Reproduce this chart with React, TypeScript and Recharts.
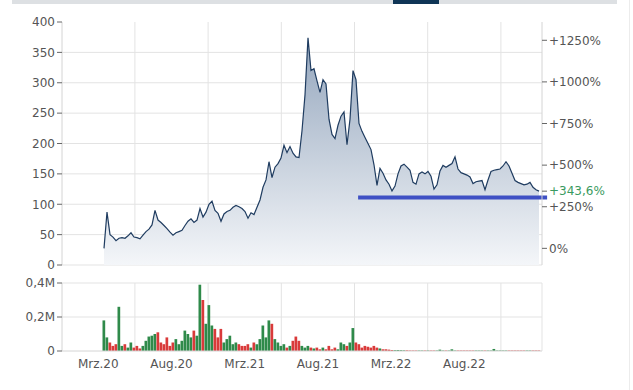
import {
  AreaChart,
  Area,
  BarChart,
  Bar,
  Cell,
  XAxis,
  YAxis,
  CartesianGrid,
  ReferenceLine,
} from "recharts"

// x axis: trading-day index, labels sit between the grid lines
const xDomain = [-14, 146]
const xLabels = ["Mrz.20", "Aug.20", "Mrz.21", "Aug.21", "Mrz.22", "Aug.22"]
const xLabelPos = [-1.9, 22.5, 46.9, 71.3, 95.7, 120.1]
const xGrid = [10.3, 34.7, 59.1, 83.5, 107.9, 132.3]

const priceTicks = [0, 50, 100, 150, 200, 250, 300, 350, 400]
const priceGrid = [0, 50, 100, 150, 200, 250, 300, 350]
const pctTicks = [0, 250, 500, 750, 1000, 1250]
const volTicks = [0, 0.2, 0.4]

// closing price
const price = [
  27.4, 87, 50, 46, 40, 44, 45, 44, 48, 53,
  46, 45, 43, 49, 55, 59, 66, 90, 74, 70,
  65, 60, 54, 49, 53, 55, 57, 65, 72, 76,
  70, 74, 93, 79, 87, 100, 105, 90, 85, 72,
  84, 88, 90, 95, 98, 96, 93, 88, 77, 86,
  83, 95, 107, 128, 140, 170, 144, 161, 167, 176,
  197, 185, 195, 184, 178, 177, 221, 280, 374, 320,
  323, 303, 284, 305, 298, 240, 215, 208, 230, 245,
  252, 198, 240, 320, 305, 233, 220, 210, 200, 190,
  165, 131, 159, 151, 140, 133, 122, 130, 150, 163,
  166, 161, 156, 136, 133, 150, 153, 150, 154, 146,
  125, 132, 155, 164, 161, 164, 167, 178, 158, 152,
  150, 148, 145, 134, 137, 138, 139, 124, 140, 154,
  156, 157, 158, 163, 170, 163, 151, 139, 136, 134,
  132, 133, 136, 128, 124, 121.55,
]

// volume in millions
const volume = [
  0.18, 0.08, 0.05, 0.03, 0.04, 0.26, 0.03, 0.04, 0.02, 0.05,
  0.02, 0.03, 0.015, 0.03, 0.06, 0.085, 0.09, 0.1, 0.11, 0.05,
  0.04, 0.08, 0.03, 0.05, 0.07, 0.04, 0.06, 0.12, 0.1, 0.08,
  0.12, 0.09, 0.39, 0.3, 0.16, 0.27, 0.15, 0.13, 0.08, 0.13,
  0.05, 0.07, 0.09, 0.04, 0.05, 0.04, 0.03, 0.03, 0.04, 0.02,
  0.05, 0.04, 0.07, 0.15, 0.08, 0.18, 0.16, 0.07, 0.05, 0.03,
  0.04, 0.02, 0.03, 0.06, 0.085, 0.06, 0.03, 0.02, 0.03, 0.02,
  0.015, 0.02, 0.01, 0.02, 0.01, 0.03, 0.01, 0.02, 0.01, 0.05,
  0.04, 0.03, 0.05, 0.135, 0.05, 0.04, 0.02, 0.03, 0.025, 0.02,
  0.03, 0.02, 0.015, 0.01, 0.01, 0.008, 0.006, 0.005, 0.006, 0.005,
  0.004, 0.004, 0.003, 0.003, 0.003, 0.003, 0.003, 0.003, 0.003, 0.003,
  0.003, 0.003, 0.008, 0.003, 0.003, 0.003, 0.01, 0.003, 0.003, 0.003,
  0.003, 0.003, 0.003, 0.003, 0.003, 0.003, 0.003, 0.003, 0.003, 0.003,
  0.012, 0.003, 0.003, 0.003, 0.003, 0.003, 0.003, 0.003, 0.003, 0.003,
  0.003, 0.003, 0.003, 0.003, 0.003, 0.003,
]

// horizontal marker line
const supportLevel = 111
const supportFrom = 84.7
const supportTo = 147.7

const basePrice = price[0]
const lastPrice = price[price.length - 1]

const rows = price.map((p, i) => ({ i, price: p, vol: volume[i] }))

const tickStyle = { fill: "#555", fontSize: 12 }
const GREEN = "#2f8a4a"
const RED = "#d93a3a"

function PctTick({ x, y, payload }: { x?: number; y?: number; payload?: { value: number } }) {
  const v = payload?.value ?? 0
  const isLast = Math.abs(v - lastPrice) < 1e-6
  const pct = (v / basePrice - 1) * 100
  let text: string
  if (isLast) text = `+${pct.toFixed(1).replace(".", ",")}%`
  else if (Math.round(pct) === 0) text = "0%"
  else text = `+${Math.round(pct)}%`
  return (
    <text x={x} y={y} dy="0.355em" textAnchor="start" fontSize={12} fill={isLast ? "#3a9a60" : "#555"}>
      {text}
    </text>
  )
}

export default function App() {
  const rightTicks = [...pctTicks.map((p) => basePrice * (1 + p / 100)), lastPrice]

  return (
    <div
      style={{
        position: "absolute",
        left: 0,
        top: 0,
        width: 633,
        height: 390,
        background: "#fff",
        overflow: "hidden",
        fontFamily: "'DejaVu Sans', Verdana, sans-serif",
      }}
    >
      <div style={{ position: "absolute", left: 12, top: 0, width: 605, height: 4, background: "#dde0e3" }} />
      <div style={{ position: "absolute", left: 393, top: 0, width: 46, height: 4, background: "#0f3556" }} />
      <div style={{ position: "absolute", left: 629, top: 0, width: 1, height: 390, background: "#ececec" }} />

      <div style={{ position: "absolute", left: 0, top: 0 }}>
        <AreaChart width={633} height={280} data={rows} margin={{ top: 22, right: 0, left: 0, bottom: 15 }}>
          <defs>
            <linearGradient id="priceFill" x1="0" y1="0" x2="0" y2="1">
              <stop offset="0%" stopColor="#94a6bd" />
              <stop offset="100%" stopColor="#f4f6f9" />
            </linearGradient>
          </defs>
          <CartesianGrid
            yAxisId="left"
            stroke="#e3e3e3"
            horizontalValues={priceGrid}
            verticalValues={xGrid}
          />
          <XAxis type="number" dataKey="i" domain={xDomain} allowDataOverflow hide />
          <YAxis
            yAxisId="left"
            width={62}
            domain={[0, 400]}
            ticks={priceTicks}
            interval={0}
            tick={tickStyle}
            tickSize={5}
            tickLine={{ stroke: "#666" }}
            axisLine={{ stroke: "#d4d4d4" }}
          />
          <YAxis
            yAxisId="right"
            orientation="right"
            width={91}
            domain={[0, 400]}
            allowDataOverflow
            ticks={rightTicks}
            interval={0}
            tick={<PctTick />}
            tickSize={5}
            tickLine={{ stroke: "#666" }}
            axisLine={{ stroke: "#d4d4d4" }}
          />
          <Area
            yAxisId="left"
            type="linear"
            dataKey="price"
            stroke="#1f3c60"
            strokeWidth={1.2}
            fill="url(#priceFill)"
            fillOpacity={1}
            dot={false}
            activeDot={false}
            isAnimationActive={false}
          />
          {/* invisible copy so the percentage axis is drawn */}
          <Area
            yAxisId="right"
            type="linear"
            dataKey="price"
            stroke="none"
            fill="none"
            dot={false}
            activeDot={false}
            isAnimationActive={false}
          />
          <ReferenceLine
            yAxisId="left"
            segment={[
              { x: supportFrom, y: supportLevel },
              { x: supportTo, y: supportLevel },
            ]}
            stroke="#3f50c4"
            strokeWidth={4}
            ifOverflow="visible"
          />
        </AreaChart>
      </div>

      <div style={{ position: "absolute", left: 0, top: 270 }}>
        <BarChart width={633} height={120} data={rows} margin={{ top: 13, right: 91, left: 0, bottom: 0 }}>
          <CartesianGrid
            stroke="#e3e3e3"
            horizontalValues={[0.2, 0.4]}
            verticalValues={[...xGrid, xDomain[1]]}
          />
          <XAxis
            type="number"
            dataKey="i"
            domain={xDomain}
            allowDataOverflow
            ticks={xLabelPos}
            interval={0}
            tickFormatter={(v: number) => xLabels[xLabelPos.indexOf(v)] ?? ""}
            tick={tickStyle}
            tickLine={false}
            axisLine={{ stroke: "#d4d4d4" }}
            height={39}
          />
          <YAxis
            width={62}
            domain={[0, 0.4]}
            ticks={volTicks}
            interval={0}
            tickFormatter={(v: number) => (v === 0 ? "0" : `${String(v).replace(".", ",")}M`)}
            tick={tickStyle}
            tickSize={5}
            tickLine={{ stroke: "#666" }}
            axisLine={{ stroke: "#d4d4d4" }}
          />
          <Bar dataKey="vol" barSize={3} isAnimationActive={false}>
            {rows.map((r, i) => (
              <Cell key={i} fill={i === 0 || r.price >= price[i - 1] ? GREEN : RED} />
            ))}
          </Bar>
        </BarChart>
      </div>
    </div>
  )
}
